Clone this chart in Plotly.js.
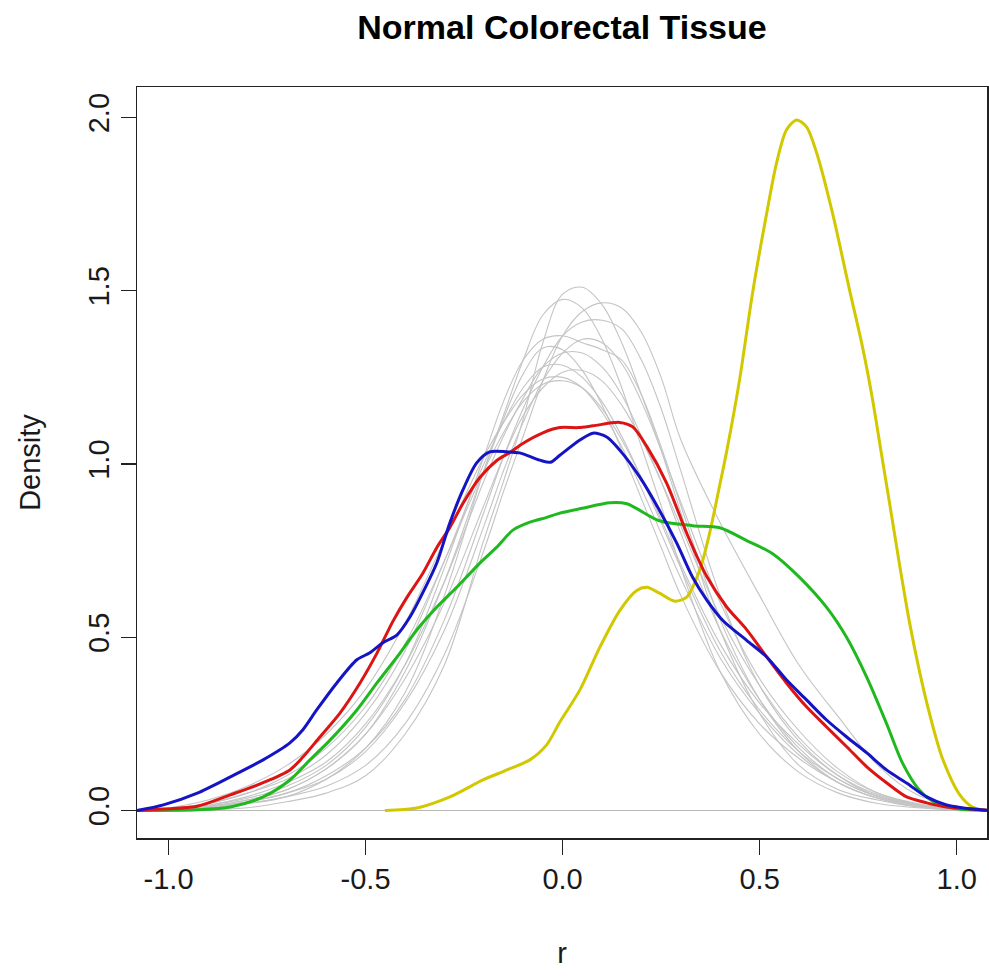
<!DOCTYPE html>
<html>
<head>
<meta charset="utf-8">
<script src="https://cdn.plot.ly/plotly-3.0.1.min.js"></script>
<style>html,body{margin:0;padding:0;background:#fff;}#chart{width:989px;height:976px;}</style>
</head>
<body>
<div id="chart"></div>
<script>
// ---- data ----
const chartTitle = "Normal Colorectal Tissue";
const xTickVals = [-1.0, -0.5, 0.0, 0.5, 1.0];
const xTickText = ["-1.0", "-0.5", "0.0", "0.5", "1.0"];
const yTickVals = [0.0, 0.5, 1.0, 1.5, 2.0];
const yTickText = ["0.0", "0.5", "1.0", "1.5", "2.0"];

// shared grid for the grey (individual sample) density curves
const grayX = [-1.1,-1.0,-0.9,-0.8,-0.7,-0.6,-0.5,-0.4,-0.3,-0.2,-0.15,-0.1,-0.05,0,0.05,0.1,0.15,0.2,0.25,0.3,0.4,0.5,0.6,0.7,0.8,0.9,1.0,1.1];
const gray01 = [0,0,0.002,0.008,0.025,0.05,0.10,0.22,0.42,0.78,0.95,1.13,1.35,1.49,1.51,1.46,1.35,1.20,1.04,0.86,0.52,0.28,0.13,0.06,0.03,0.01,0.003,0];
const gray02 = [0,0.003,0.01,0.02,0.04,0.09,0.18,0.34,0.62,0.98,1.14,1.30,1.43,1.475,1.45,1.36,1.22,1.05,0.88,0.70,0.40,0.22,0.11,0.05,0.02,0.008,0.002,0];
const gray03 = [0,0.002,0.008,0.02,0.04,0.07,0.13,0.25,0.45,0.75,0.92,1.08,1.24,1.37,1.44,1.465,1.45,1.38,1.25,1.07,0.83,0.62,0.42,0.27,0.13,0.045,0.012,0];
const gray04 = [0,0.002,0.01,0.025,0.05,0.10,0.18,0.32,0.55,0.86,1.02,1.16,1.28,1.37,1.41,1.415,1.39,1.30,1.16,0.98,0.62,0.36,0.20,0.10,0.04,0.015,0.004,0];
const gray05 = [0,0.004,0.015,0.035,0.07,0.13,0.24,0.42,0.70,1.02,1.18,1.30,1.36,1.37,1.35,1.33,1.30,1.20,1.05,0.88,0.55,0.32,0.17,0.08,0.035,0.012,0.003,0];
const gray06 = [0,0.005,0.015,0.04,0.08,0.14,0.25,0.42,0.66,0.95,1.08,1.19,1.28,1.32,1.32,1.28,1.20,1.08,0.95,0.80,0.52,0.32,0.18,0.09,0.04,0.015,0.004,0];
const gray07 = [0,0.006,0.02,0.05,0.09,0.16,0.28,0.46,0.72,1.00,1.12,1.22,1.28,1.285,1.25,1.18,1.08,0.96,0.83,0.70,0.46,0.29,0.17,0.09,0.04,0.015,0.004,0];
const gray08 = [0,0.003,0.012,0.03,0.06,0.12,0.22,0.38,0.60,0.88,1.02,1.14,1.22,1.265,1.27,1.24,1.17,1.07,0.95,0.82,0.56,0.36,0.21,0.11,0.05,0.02,0.005,0];
const gray09 = [0.001,0.006,0.02,0.05,0.10,0.18,0.30,0.48,0.72,0.98,1.09,1.18,1.23,1.24,1.22,1.16,1.07,0.96,0.84,0.71,0.48,0.31,0.19,0.10,0.045,0.017,0.005,0];
const gray10 = [0,0.003,0.01,0.025,0.05,0.09,0.17,0.31,0.52,0.82,0.98,1.12,1.24,1.32,1.36,1.35,1.29,1.18,1.04,0.89,0.60,0.38,0.23,0.12,0.05,0.018,0.005,0];
const gray11 = [0.001,0.008,0.03,0.07,0.13,0.22,0.35,0.54,0.78,1.02,1.12,1.20,1.245,1.25,1.22,1.15,1.05,0.93,0.80,0.67,0.44,0.28,0.16,0.08,0.035,0.012,0.003,0];
const gray12 = [0,0.004,0.012,0.03,0.06,0.12,0.22,0.40,0.66,0.98,1.13,1.26,1.335,1.33,1.27,1.17,1.04,0.90,0.76,0.62,0.40,0.25,0.15,0.08,0.035,0.012,0.003,0];

const redX = [-1.08,-1.013,-0.927,-0.843,-0.76,-0.692,-0.659,-0.616,-0.565,-0.514,-0.471,-0.431,-0.395,-0.355,-0.319,-0.286,-0.253,-0.21,-0.167,-0.134,-0.1,-0.05,-0.007,0.04,0.077,0.145,0.178,0.214,0.264,0.315,0.366,0.416,0.467,0.518,0.568,0.619,0.67,0.721,0.772,0.822,0.873,0.924,0.974,1.04,1.08];
const redY = [0,0.004,0.012,0.045,0.08,0.117,0.154,0.212,0.281,0.368,0.454,0.545,0.615,0.684,0.759,0.817,0.886,0.961,1.01,1.033,1.06,1.09,1.105,1.105,1.11,1.12,1.107,1.05,0.945,0.80,0.675,0.588,0.522,0.443,0.368,0.299,0.241,0.184,0.126,0.08,0.039,0.022,0.01,0.004,0];

const blueX = [-1.08,-1.013,-0.927,-0.843,-0.76,-0.692,-0.659,-0.624,-0.573,-0.522,-0.489,-0.456,-0.42,-0.387,-0.355,-0.319,-0.286,-0.253,-0.218,-0.185,-0.141,-0.109,-0.058,-0.03,-0.007,0.044,0.077,0.112,0.145,0.196,0.246,0.29,0.33,0.366,0.406,0.467,0.518,0.568,0.619,0.67,0.721,0.772,0.822,0.873,0.924,0.974,1.04,1.08];
const blueY = [0,0.016,0.05,0.097,0.146,0.195,0.233,0.29,0.368,0.435,0.455,0.484,0.507,0.559,0.628,0.715,0.83,0.925,1.003,1.035,1.035,1.032,1.011,1.005,1.025,1.069,1.089,1.078,1.04,0.962,0.866,0.771,0.673,0.607,0.549,0.491,0.443,0.377,0.319,0.261,0.212,0.166,0.117,0.079,0.039,0.016,0.004,0];

const greenX = [-1.08,-0.927,-0.843,-0.76,-0.692,-0.641,-0.59,-0.522,-0.471,-0.42,-0.37,-0.319,-0.268,-0.21,-0.167,-0.126,-0.083,-0.04,-0.007,0.05,0.12,0.163,0.246,0.33,0.399,0.467,0.533,0.602,0.67,0.721,0.772,0.822,0.863,0.906,0.949,0.989,1.04,1.08];
const greenY = [0,0.002,0.01,0.039,0.088,0.146,0.203,0.29,0.368,0.443,0.521,0.587,0.645,0.714,0.76,0.809,0.832,0.846,0.858,0.872,0.888,0.885,0.836,0.822,0.816,0.779,0.741,0.672,0.586,0.499,0.384,0.251,0.136,0.058,0.02,0.007,0.001,0];

const yellowX = [-0.451,-0.37,-0.286,-0.202,-0.141,-0.083,-0.04,-0.007,0.044,0.094,0.145,0.188,0.214,0.246,0.285,0.315,0.348,0.373,0.399,0.417,0.449,0.482,0.518,0.543,0.568,0.594,0.619,0.645,0.685,0.728,0.761,0.786,0.809,0.83,0.855,0.88,0.906,0.931,0.964,1.008,1.04,1.076];
const yellowY = [0,0.007,0.039,0.088,0.117,0.146,0.19,0.255,0.348,0.47,0.577,0.635,0.644,0.627,0.604,0.616,0.694,0.80,0.94,1.04,1.242,1.493,1.724,1.869,1.964,1.993,1.973,1.897,1.724,1.503,1.338,1.19,1.03,0.885,0.71,0.545,0.40,0.28,0.15,0.045,0.01,0];

// ---- traces ----
const grayCurves = [gray01,gray02,gray03,gray04,gray05,gray06,gray07,gray08,gray09,gray10,gray11,gray12];
const traces = grayCurves.map(ys => ({
  x: grayX, y: ys, type: 'scatter', mode: 'lines',
  line: {color: '#c4c4c4', width: 1.1, shape: 'spline', smoothing: 1},
  hoverinfo: 'skip', showlegend: false
}));
const colored = [
  {x: yellowX, y: yellowY, c: '#d2c800'},
  {x: greenX, y: greenY, c: '#1fb81f'},
  {x: redX, y: redY, c: '#dc1414'},
  {x: blueX, y: blueY, c: '#1414c4'}
];
colored.forEach(s => traces.push({
  x: s.x, y: s.y, type: 'scatter', mode: 'lines',
  line: {color: s.c, width: 3, shape: 'spline', smoothing: 0.8},
  showlegend: false
}));

const fontFam = '"Liberation Sans", Arial, Helvetica, sans-serif';
const layout = {
  width: 989, height: 976,
  margin: {l: 137, r: 2, t: 87, b: 138},
  paper_bgcolor: '#ffffff', plot_bgcolor: '#ffffff',
  font: {family: fontFam, size: 29, color: '#1a1a1a'},
  title: {text: '<b>' + chartTitle + '</b>', font: {family: fontFam, size: 34, color: '#000'},
          x: 0.5, xref: 'paper', xanchor: 'center', y: 1 - 27/976, yref: 'container', yanchor: 'middle'},
  xaxis: {
    range: [-1.08, 1.077], tickvals: xTickVals, ticktext: xTickText,
    ticks: 'outside', ticklen: 15, tickwidth: 1.3, tickcolor: '#222',
    showline: true, mirror: true, linecolor: '#222', linewidth: 1.5,
    showgrid: false, zeroline: false,
    tickfont: {size: 29},
    title: {text: 'r', font: {size: 29}, standoff: 48}
  },
  yaxis: {
    range: [-0.0795, 2.088], tickvals: yTickVals, ticktext: yTickText,
    ticks: 'outside', ticklen: 15, tickwidth: 1.3, tickcolor: '#222', tickangle: -90,
    showline: true, mirror: true, linecolor: '#222', linewidth: 1.5,
    showgrid: false, zeroline: true, zerolinecolor: '#b8b8b8', zerolinewidth: 1.2,
    tickfont: {size: 29},
    title: {text: 'Density', font: {size: 29}, standoff: 34}
  }
};
Plotly.newPlot('chart', traces, layout, {displayModeBar: false, staticPlot: true});
</script>
</body>
</html>
